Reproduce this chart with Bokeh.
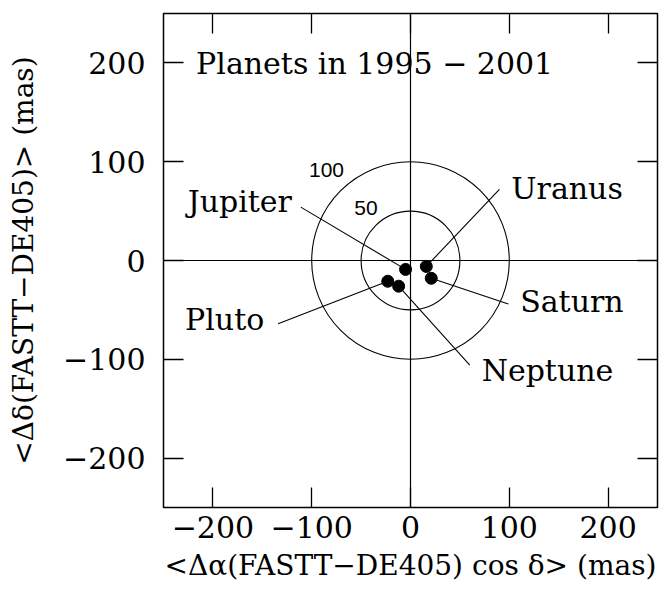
from bokeh.plotting import figure
from bokeh.models import (Range1d, FixedTicker, LinearAxis, CustomJSTickFormatter,
                          Span, ColumnDataSource)
from bokeh.core.properties import value
from bokeh.embed import file_html
from bokeh.resources import INLINE

# ---- data ----
planets = ["Jupiter", "Saturn", "Uranus", "Neptune", "Pluto"]
dx = [-5, 21, 16, -12, -23]          # <Δα cos δ> (mas)
dy = [-9, -18, -6, -26, -21]         # <Δδ> (mas)

# label anchor (data coords) and leader-line end
label_x = [-120, 111, 102, 72, -148]
label_y = [60, -41.5, 73, -111, -60]
label_align = ["right", "left", "left", "left", "right"]
line_x = [-111, 99, 90, 60, -134]
line_y = [54, -44, 72, -106, -64]

ring_radii = [50, 100]
ring_labels = ["50", "100"]
ring_label_x = [-45, -85]
ring_label_y = [53, 92]

ticks = [-200, -100, 0, 100, 200]
title_text = "Planets in 1995 \u2212 2001"
xlabel = "<\u0394\u03b1(FASTT\u2212DE405) cos \u03b4> (mas)"
ylabel = "<\u0394\u03b4(FASTT\u2212DE405)> (mas)"

SERIF = "DejaVu Serif"
FS = "30px"
AFS = "28px"

p = figure(width=668, height=591, output_backend="svg", toolbar_location=None,
           x_range=Range1d(-250, 250), y_range=Range1d(-250, 250),
           min_border_left=163, min_border_right=11, min_border_top=13,
           min_border_bottom=84)
p.grid.visible = False
p.outline_line_color = "black"
p.outline_line_width = 1.5
p.background_fill_color = "white"
p.border_fill_color = "white"

fmt = CustomJSTickFormatter(code="return tick < 0 ? '\\u2212' + Math.abs(tick) : tick.toString();")
blank = CustomJSTickFormatter(code="return '';")

for ax in (p.xaxis[0], p.yaxis[0]):
    ax.ticker = FixedTicker(ticks=ticks, minor_ticks=[])
    ax.formatter = fmt
    ax.major_tick_in = 20
    ax.major_tick_out = 0
    ax.minor_tick_in = 0
    ax.minor_tick_out = 0
    ax.major_tick_line_width = 1.3
    ax.axis_line_color = None
    ax.major_label_text_font = SERIF
    ax.major_label_text_font_size = FS
    ax.major_label_text_color = "black"
    ax.axis_label_text_font = SERIF
    ax.axis_label_text_font_size = AFS
    ax.axis_label_text_font_style = "normal"
    ax.axis_label_text_color = "black"

p.xaxis[0].axis_label = xlabel
p.yaxis[0].axis_label = ylabel
p.xaxis[0].major_label_standoff = 8
p.xaxis[0].axis_label_standoff = 8
p.yaxis[0].major_label_standoff = 18
p.yaxis[0].axis_label_standoff = 20

for side in ("right", "above"):
    ax = LinearAxis(ticker=FixedTicker(ticks=ticks, minor_ticks=[]), formatter=blank)
    ax.major_tick_in = 20
    ax.major_tick_out = 0
    ax.minor_tick_in = 0
    ax.minor_tick_out = 0
    ax.major_tick_line_width = 1.3
    ax.axis_line_color = None
    ax.major_label_standoff = 0
    p.add_layout(ax, side)

# zero lines
p.add_layout(Span(location=0, dimension="width", line_color="black", line_width=1.2))
p.add_layout(Span(location=0, dimension="height", line_color="black", line_width=1.2))

# rings
p.ellipse(x=[0, 0], y=[0, 0], width=[2 * r for r in ring_radii],
          height=[2 * r for r in ring_radii], fill_color=None,
          line_color="black", line_width=1.1)
p.text(x=ring_label_x, y=ring_label_y, text=ring_labels,
       text_font=value("Liberation Sans"), text_font_size="21px",
       text_align="center", text_baseline="middle", text_color="black")

# leader lines
p.segment(x0=dx, y0=dy, x1=line_x, y1=line_y, line_color="black", line_width=1.1)

# planet dots
p.scatter(x=dx, y=dy, size=12, marker="circle", fill_color="black", line_color="black")

# planet labels
src = ColumnDataSource(dict(x=label_x, y=label_y, t=planets, a=label_align))
p.text(x="x", y="y", text="t", text_align="a", source=src,
       text_font=value(SERIF), text_font_size=FS, text_baseline="middle",
       text_color="black")

# title inside the frame
p.text(x=[-217], y=[199], text=[title_text], text_font=value(SERIF),
       text_font_size=FS, text_align="left", text_baseline="middle",
       text_color="black")

open("out.html", "w").write(file_html(p, INLINE))
